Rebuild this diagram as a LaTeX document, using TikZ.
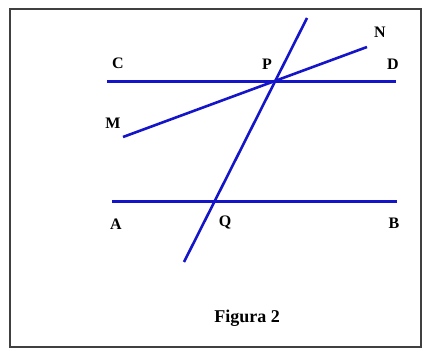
\documentclass[tikz,border=0pt]{standalone}
\usepackage{fontspec}
\setmainfont{Liberation Serif}
\definecolor{lineblue}{RGB}{20,20,200}
\tikzset{
    lbl/.style={font=\bfseries\fontsize{16}{18}\selectfont, inner sep=0pt},
    ln/.style={draw=lineblue, line width=2.6pt}
}
\begin{document}
\begin{tikzpicture}[x=1pt, y=1pt]
    \useasboundingbox (0,0) rectangle (422,348);
    \draw[line width=1.8pt, black!75] (10,339) rectangle (421,1);

    \coordinate (c) at (107,266.5);
    \coordinate (d) at (396,266.5);
    \coordinate (a) at (112,146.5);
    \coordinate (b) at (397,146.5);
    \coordinate (top) at (307,330);
    \coordinate (bot) at (184,86);
    \coordinate (m) at (123,211);
    \coordinate (n) at (367,301);

    \node (lc) [lbl] at (118,285) {C};
    \node (lp) [lbl] at (267,284) {P};
    \node (ld) [lbl] at (393,284) {D};
    \node (ln) [lbl] at (380,316) {N};
    \node (lm) [lbl] at (113,225) {M};
    \node (la) [lbl] at (116,124) {A};
    \node (lq) [lbl] at (225,126) {Q};
    \node (lb) [lbl] at (394,125) {B};
    \node (cap) [lbl, font=\bfseries\fontsize{18}{20}\selectfont] at (247,30) {Figura 2};

    \draw[ln, line width=2.2pt] (c) -- (d);
    \draw[ln] (a) -- (b);
    \draw[ln] (bot) -- (top);
    \draw[ln] (m) -- (n);
\end{tikzpicture}
\end{document}
